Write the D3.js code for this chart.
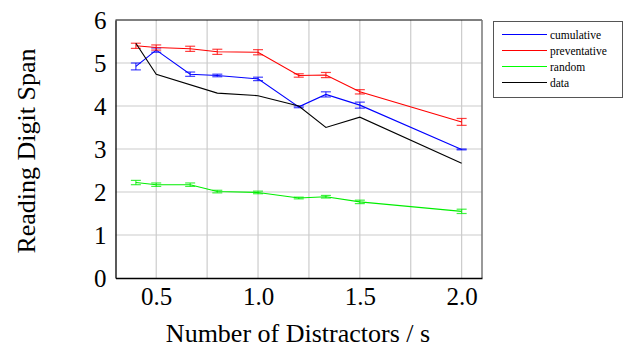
<!DOCTYPE html>
<html>
<head>
<meta charset="utf-8">
<script src="https://cdn.jsdelivr.net/npm/d3@7"></script>
<style>
body { margin: 0; background: #fff; }
svg text { font-family: "Liberation Serif", "DejaVu Serif", serif !important; }
</style>
</head>
<body>
<svg width="624" height="348"></svg>
<script>
// distractor rates (1/s) of the measured points
var xs = [0.4, 0.5, 2 / 3, 0.8, 1.0, 1.2, 4 / 3, 1.5, 2.0];

var cumulative = [4.92, 5.3, 4.74, 4.71, 4.63, 3.98, 4.27, 4.02, 2.99];
var cumulativeErr = [0.08, 0.05, 0.05, 0.03, 0.04, 0.02, 0.06, 0.07, 0.01];

var preventative = [5.4, 5.36, 5.33, 5.26, 5.25, 4.71, 4.72, 4.33, 3.63];
var preventativeErr = [0.06, 0.06, 0.06, 0.06, 0.06, 0.04, 0.06, 0.05, 0.08];

var random = [2.22, 2.17, 2.17, 2.01, 1.99, 1.86, 1.89, 1.77, 1.55];
var randomErr = [0.05, 0.04, 0.04, 0.03, 0.03, 0.02, 0.03, 0.04, 0.05];

// human data has no 2/3 point
var dataX = [0.4, 0.5, 0.8, 1.0, 1.2, 4 / 3, 1.5, 2.0];
var dataY = [5.46, 4.74, 4.3, 4.24, 4.0, 3.5, 3.74, 2.67];

var xTicks = [0.5, 1.0, 1.5, 2.0];
var xGrid = [0.5, 0.75, 1.0, 1.25, 1.5, 1.75, 2.0];
var yTicks = [0, 1, 2, 3, 4, 5, 6];

var svg = d3.select("svg");
var plotLeft = 115.5, plotRight = 482, plotTop = 20, plotBottom = 278;

var x = d3.scaleLinear().domain([0.3, 2.1]).range([plotLeft, plotRight]);
var y = d3.scaleLinear().domain([0, 6]).range([plotBottom, plotTop]);

// grid
svg.append("g").selectAll("line")
	.data(xGrid)
	.enter().append("line")
	.attr("x1", function(d) { return x(d); })
	.attr("x2", function(d) { return x(d); })
	.attr("y1", plotTop).attr("y2", plotBottom)
	.attr("stroke", "#cccccc").attr("stroke-width", 1.2);

svg.append("g").selectAll("line")
	.data(yTicks.slice(1, 6))
	.enter().append("line")
	.attr("x1", plotLeft).attr("x2", plotRight)
	.attr("y1", function(d) { return y(d); })
	.attr("y2", function(d) { return y(d); })
	.attr("stroke", "#cccccc").attr("stroke-width", 1.2);

// frame
svg.append("line").attr("x1", plotLeft).attr("x2", plotRight)
	.attr("y1", plotTop).attr("y2", plotTop)
	.attr("stroke", "#000");
svg.append("line").attr("x1", plotRight).attr("x2", plotRight)
	.attr("y1", plotTop).attr("y2", plotBottom)
	.attr("stroke", "#777").attr("stroke-width", 1.5);

var xAxis = svg.append("g")
	.attr("transform", "translate(0," + plotBottom + ")")
	.call(d3.axisBottom(x).tickValues(xTicks).tickSize(0).tickPadding(9)
		.tickFormat(d3.format(".1f")));
xAxis.select(".domain").attr("stroke", "#000").attr("stroke-width", 1.3);
xAxis.selectAll("text").attr("font-size", 25).attr("fill", "#000");

var yAxis = svg.append("g")
	.attr("transform", "translate(" + plotLeft + ",0)")
	.call(d3.axisLeft(y).tickValues(yTicks).tickSize(0).tickPadding(9)
		.tickFormat(d3.format("d")));
yAxis.select(".domain").attr("stroke", "#000").attr("stroke-width", 1.3);
yAxis.selectAll("text").attr("font-size", 25).attr("fill", "#000");

var line = d3.line()
	.x(function(d) { return x(d[0]); })
	.y(function(d) { return y(d[1]); });

function drawSeries(vals, errs, color) {
	var pts = xs.map(function(d, i) { return [d, vals[i], errs[i]]; });
	svg.append("path")
		.datum(pts)
		.attr("d", line)
		.attr("fill", "none")
		.attr("stroke", color)
		.attr("stroke-width", 1.1);
	var eb = svg.append("g").attr("stroke", color).attr("stroke-opacity", 0.75)
		.attr("stroke-width", 1.2);
	eb.selectAll(".v").data(pts).enter().append("line")
		.attr("x1", function(d) { return x(d[0]); })
		.attr("x2", function(d) { return x(d[0]); })
		.attr("y1", function(d) { return y(d[1] - d[2]); })
		.attr("y2", function(d) { return y(d[1] + d[2]); });
	[-1, 1].forEach(function(s) {
		eb.selectAll(".c" + s).data(pts).enter().append("line")
			.attr("x1", function(d) { return x(d[0]) - 5; })
			.attr("x2", function(d) { return x(d[0]) + 5; })
			.attr("y1", function(d) { return y(d[1] + s * d[2]); })
			.attr("y2", function(d) { return y(d[1] + s * d[2]); });
	});
}

drawSeries(cumulative, cumulativeErr, "#0000ff");
drawSeries(preventative, preventativeErr, "#ff0000");
drawSeries(random, randomErr, "#00ee00");

svg.append("path")
	.datum(dataX.map(function(d, i) { return [d, dataY[i]]; }))
	.attr("d", line)
	.attr("fill", "none")
	.attr("stroke", "#000")
	.attr("stroke-width", 1.1);

// axis titles
svg.append("text")
	.attr("x", 298).attr("y", 342)
	.attr("text-anchor", "middle")
	.attr("font-size", 26)
	.text("Number of Distractors / s");

svg.append("text")
	.attr("transform", "translate(35,151) rotate(-90)")
	.attr("text-anchor", "middle")
	.attr("font-size", 26)
	.text("Reading Digit Span");

// legend
var legendNames = ["cumulative", "preventative", "random", "data"];
var legendColors = ["#0000ff", "#ff0000", "#00ff00", "#000000"];

var lg = svg.append("g");
lg.append("rect")
	.attr("x", 493.5).attr("y", 21.5)
	.attr("width", 129).attr("height", 76)
	.attr("fill", "#fff").attr("stroke", "#555").attr("stroke-width", 1);
var rows = lg.selectAll("g.row")
	.data(legendNames)
	.enter().append("g")
	.attr("transform", function(d, i) { return "translate(0," + (34.5 + i * 16) + ")"; });
rows.append("line")
	.attr("x1", 502).attr("x2", 547)
	.attr("stroke", function(d, i) { return legendColors[i]; });
rows.append("text")
	.attr("x", 550).attr("y", 4)
	.attr("font-size", 11.5)
	.text(function(d) { return d; });
</script>
</body>
</html>
